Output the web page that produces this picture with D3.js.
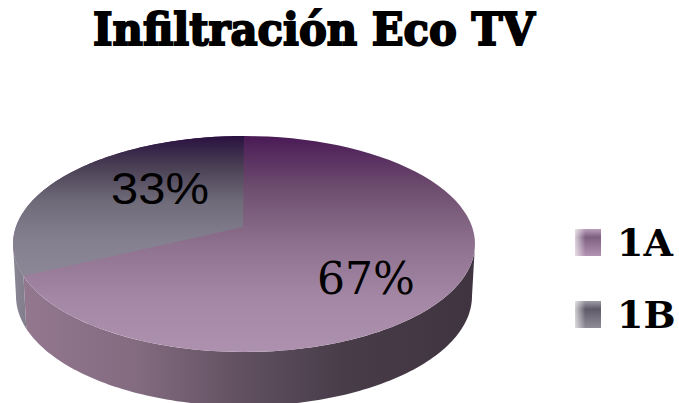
<!DOCTYPE html>
<html>
<head>
<meta charset="utf-8">
<script src="https://cdn.jsdelivr.net/npm/d3@7"></script>
<style>html,body{margin:0;padding:0;background:#fff}svg{display:block}</style>
</head>
<body>
<svg id="c" width="679" height="403"></svg>
<script>
const chartTitle = "Infiltración Eco TV";
const categories = ["1A", "1B"];
const seriesValues = [67, 33];

const svg = d3.select("#c");
const defs = svg.append("defs");
function grad(id, x1, y1, x2, y2, stops) {
  const g = defs.append("linearGradient").attr("id", id).attr("gradientUnits", "userSpaceOnUse")
    .attr("x1", x1).attr("y1", y1).attr("x2", x2).attr("y2", y2);
  stops.forEach(s => g.append("stop").attr("offset", s[0]).attr("stop-color", s[1]));
}
const topE = {cx: 244, cy: 244, rx: 231, ry: 108};
const botE = {cx: 244, cy: 296, rx: 228, ry: 110};
const apex = {x: 243, y: 227};
const tilt = 0.87;

grad("topA", 0, 136, 0, 352, [[0, "#4a1a55"], [0.25, "#6f4f70"], [0.5, "#8e718e"], [0.75, "#a487a4"], [1, "#ae91ae"]]);
grad("topB", 0, 136, 0, 290, [[0, "#2a1140"], [0.2, "#4a4055"], [0.42, "#6e6a78"], [0.68, "#858090"], [1, "#8f8a98"]]);
grad("wallA", 25, 0, 470, 0, [[0, "#93778f"], [0.25, "#836b80"], [0.5, "#5f4f5f"], [0.72, "#483c49"], [1, "#3f3440"]]);
grad("wallB", 13, 0, 30, 0, [[0, "#8b8793"], [1, "#7e7a88"]]);
grad("swA", 0, 229, 0, 256, [[0, "#b9a0b9"], [0.3, "#7d5f80"], [1, "#b493b2"]]);
grad("swB", 0, 301, 0, 328, [[0, "#9f9ba6"], [0.3, "#5f5a68"], [1, "#8f8b97"]]);
const fade = defs.append("linearGradient").attr("id", "swFade");
fade.append("stop").attr("offset", 0).attr("stop-color", "#fff").attr("stop-opacity", 0.7);
fade.append("stop").attr("offset", 0.4).attr("stop-color", "#fff").attr("stop-opacity", 0);

const arcs = d3.pie().sort(null).startAngle(0).endAngle(2 * Math.PI)(seriesValues);

// Point where a pie angle's ray from the apex meets the top ellipse
function rim(a) {
  const dx = Math.sin(a) * topE.rx, dy = -Math.cos(a) * topE.ry * tilt;
  const ox = (apex.x - topE.cx) / topE.rx, oy = (apex.y - topE.cy) / topE.ry;
  const ux = dx / topE.rx, uy = dy / topE.ry;
  const A = ux * ux + uy * uy, B = 2 * (ox * ux + oy * uy), C = ox * ox + oy * oy - 1;
  const s = (-B + Math.sqrt(B * B - 4 * A * C)) / (2 * A);
  const x = ox + s * ux, y = oy + s * uy;
  const t = Math.atan2(x, -y);
  return t < 0 ? t + 2 * Math.PI : t;
}
const pt = (e, t) => [e.cx + e.rx * Math.sin(t), e.cy - e.ry * Math.cos(t)];
const line = d3.line();
const span = (e, t0, t1) => d3.range(0, 121).map(i => pt(e, t0 + (t1 - t0) * i / 120));

const split = rim(arcs[1].startAngle);

// walls
const wall = (t0, t1) => line(span(topE, t0, t1).concat(span(botE, t1, t0))) + "Z";
svg.append("path").attr("d", wall(Math.PI / 2, split)).attr("fill", "url(#wallA)");
svg.append("path").attr("d", wall(split, 3 * Math.PI / 2)).attr("fill", "url(#wallB)");

// top face
svg.append("path").attr("d", line(span(topE, 0, 2 * Math.PI)) + "Z").attr("fill", "url(#topA)");
svg.append("path")
  .attr("d", line([[apex.x, apex.y]].concat(span(topE, split, 2 * Math.PI))) + "Z")
  .attr("fill", "url(#topB)");

// value labels
const pct = d3.format(".0f");
svg.append("text").attr("x", 366).attr("y", 294).attr("text-anchor", "middle")
  .attr("font-family", "'DejaVu Serif'").attr("font-size", 45).attr("fill", "#000")
  .attr("textLength", 98).attr("lengthAdjust", "spacingAndGlyphs")
  .text(pct(seriesValues[0]) + "%");
svg.append("text").attr("x", 160).attr("y", 204).attr("text-anchor", "middle")
  .attr("font-family", "'Liberation Sans'").attr("font-size", 44).attr("fill", "#000")
  .attr("textLength", 98).attr("lengthAdjust", "spacingAndGlyphs")
  .text(pct(seriesValues[1]) + "%");

// title
svg.append("text").attr("x", 314).attr("y", 45).attr("text-anchor", "middle")
  .attr("font-family", "'DejaVu Serif'").attr("font-weight", "bold").attr("font-size", 45)
  .attr("stroke", "#000").attr("stroke-width", 2).attr("fill", "#000")
  .attr("textLength", 442).attr("lengthAdjust", "spacingAndGlyphs")
  .text(chartTitle);

// legend
const legendY = d3.scalePoint().domain(categories).range([229, 301]);
const lg = svg.selectAll("g.lg").data(categories).join("g").attr("class", "lg");
lg.append("rect").attr("x", 575).attr("y", d => legendY(d)).attr("width", 26).attr("height", 27)
  .attr("fill", (d, i) => i ? "url(#swB)" : "url(#swA)");
lg.append("rect").attr("x", 575).attr("y", d => legendY(d)).attr("width", 26).attr("height", 27)
  .attr("fill", "url(#swFade)");
lg.append("text").attr("x", 617).attr("y", d => legendY(d) + 27)
  .attr("font-family", "'DejaVu Serif'").attr("font-weight", "bold").attr("font-size", 38)
  .attr("fill", "#000").text(d => d);
</script>
</body>
</html>
